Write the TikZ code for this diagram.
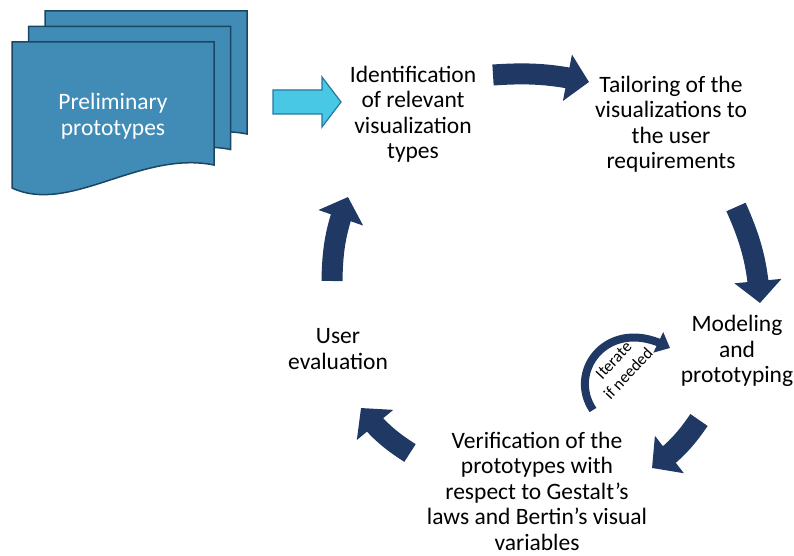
\documentclass[tikz,border=0pt]{standalone}
\usepackage{fontspec}
\setmainfont{Carlito}
\usetikzlibrary{arrows.meta, positioning, bending}
\definecolor{navy}{RGB}{31,56,100}
\definecolor{pageblue}{RGB}{65,140,183}
\definecolor{pageedge}{RGB}{27,70,98}
\definecolor{feedcyan}{RGB}{72,200,228}
\definecolor{feededge}{RGB}{38,118,160}
\tikzstyle{stage} = [align=center, inner sep=0pt, font=\fontsize{23.5}{25.5}\selectfont]
\tikzstyle{docpage} = [draw=pageedge, fill=pageblue, line width=1.5pt]
\tikzstyle{feedarrow} = [draw=feededge, fill=feedcyan, line width=1.2pt]
\tikzstyle{flow} = [navy, line width=21pt, -{Triangle[width=46pt, length=22pt]}]
\tikzstyle{iterarrow} = [navy, line width=8pt, -{Triangle[width=22pt, length=13pt]}]
\tikzstyle{iterlabel} = [align=center, inner sep=0pt, font=\fontsize{16.5}{20}\selectfont]

\begin{document}
\begin{tikzpicture}[x=1pt, y=-1pt]
    \useasboundingbox (0,0) rectangle (794,556);

    % Stack of pages
    \foreach \k in {2,1,0}
      \draw [docpage, shift={(12+16.5*\k, 42-15.5*\k)}] (0,0) -- (202,0) -- (202,123)
        .. controls (128,108) and (58,173) .. (0,146) -- cycle;

    % Place the stages
    \node [stage, text=white] (prelim) at (113,116) {Preliminary\\prototypes};
    \node [stage] (ident) at (413,114) {Identification\\of relevant\\visualization\\types};
    \node [stage] (tailor) at (671,124) {Tailoring of the\\visualizations to\\the user\\requirements};
    \node [stage] (model) at (737,351) {Modeling\\and\\prototyping};
    \node [stage] (verif) at (537,491) {Verification of the\\prototypes with\\respect to Gestalt's\\laws and Bertin's visual\\variables};
    \node [stage] (user) at (338,349) {User\\evaluation};
    \node [iterlabel, rotate=47] (iterlbl) at (621,367) {Iterate\\if needed};

    % Arrow ends
    \coordinate (feedtail) at (273,102);
    \coordinate (c1s) at (493,75);  \coordinate (c1e) at (589,82);
    \coordinate (c2s) at (736,207); \coordinate (c2e) at (760,303);
    \coordinate (c3s) at (699,420); \coordinate (c3e) at (652,468);
    \coordinate (c4s) at (410,453); \coordinate (c4e) at (361,408);
    \coordinate (c5s) at (332,281); \coordinate (c5e) at (348,197);
    \coordinate (iters) at (593,410); \coordinate (itere) at (670,348);

    % Connect the stages
    \draw [feedarrow] (feedtail) ++(0,-12) -- ++(49,0) -- ++(0,-13) -- ++(19,25)
      -- ++(-19,25) -- ++(0,-13) -- ++(-49,0) -- cycle;
    \draw [flow] (c1s) to[bend left=8] (c1e);
    \draw [flow] (c2s) to[bend left=10] (c2e);
    \draw [flow] (c3s) to[bend left=10] (c3e);
    \draw [flow] (c4s) to[bend left=10] (c4e);
    \draw [flow] (c5s) to[bend left=10] (c5e);
    \draw [iterarrow] (iters) .. controls (566,370) and (610,314) .. (itere);
\end{tikzpicture}
\end{document}
